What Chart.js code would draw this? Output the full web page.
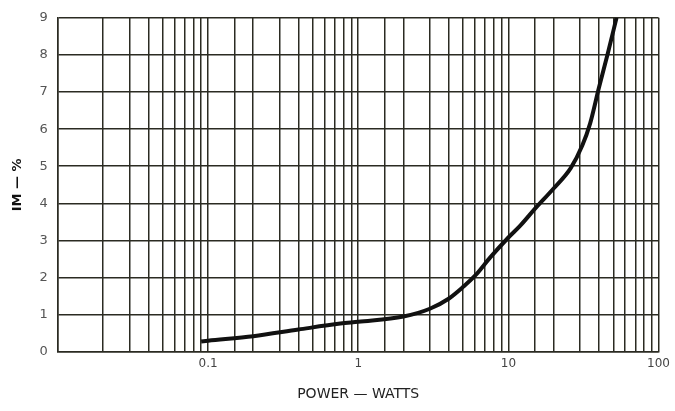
<!DOCTYPE html>
<html>
<head>
<meta charset="utf-8">
<script src="https://cdn.jsdelivr.net/npm/chart.js@4"></script>
<style>
  html, body { margin: 0; padding: 0; background: #fff; }
  #wrap { width: 675px; height: 411px; position: relative; }
</style>
</head>
<body>
<div id="wrap"><canvas id="myChart"></canvas></div>
<script>
// データ
const powerWatts = [0.09, 0.1, 0.2, 0.4, 0.76, 1, 2, 3, 4, 5, 6, 7.6, 10, 12, 15, 20, 26, 31, 35, 40, 46, 52.5];
const imPercent = [0.28, 0.3, 0.42, 0.6, 0.76, 0.81, 0.95, 1.16, 1.43, 1.75, 2.05, 2.55, 3.08, 3.4, 3.85, 4.4, 4.95, 5.55, 6.15, 7.1, 8.05, 9.0];
const xTickLabels = [0.1, 1, 10, 100];
const yTicks = [0, 1, 2, 3, 4, 5, 6, 7, 8, 9];

const gridColor = "#2b2b22";

const ctx = document.getElementById("myChart");

new Chart(ctx, {
    type: "line",
    data: {
        datasets: [
            {
                data: powerWatts.map((x, i) => ({ x: x, y: imPercent[i] })),
                borderColor: "#111",
                borderWidth: 4,
                pointRadius: 0,
                cubicInterpolationMode: "monotone",
                fill: false,
            },
        ],
    },
    options: {
        responsive: true,
        maintainAspectRatio: false,
        animation: false,
        layout: { padding: { top: 4, right: 15, left: 6, bottom: 4 } },
        plugins: { legend: { display: false }, tooltip: { enabled: false } },
        scales: {
            x: {
                type: "logarithmic",
                min: 0.01,
                max: 100,
                grid: { color: gridColor, lineWidth: 1.5, drawTicks: false },
                border: { color: gridColor, width: 1.5 },
                ticks: {
                    autoSkip: false,
                    maxRotation: 0,
                    padding: 5,
                    color: "#444",
                    font: { family: "DejaVu Sans", size: 12 },
                    callback: (value) => xTickLabels.includes(Number(value)) ? String(value) : "",
                },
                title: {
                    display: true,
                    text: "POWER — WATTS",
                    color: "#222",
                    font: { family: "DejaVu Sans", size: 14 },
                    padding: { top: 10 },
                },
            },
            y: {
                min: 0,
                max: 9,
                afterBuildTicks: (axis) => { axis.ticks = yTicks.map((v) => ({ value: v })); },
                grid: { color: gridColor, lineWidth: 1.5, drawTicks: false },
                border: { color: gridColor, width: 1.5 },
                ticks: {
                    padding: 10,
                    color: "#555",
                    font: { family: "DejaVu Sans", size: 13 },
                },
                title: {
                    display: true,
                    text: "IM — %",
                    color: "#111",
                    font: { family: "DejaVu Sans", size: 13, weight: "bold" },
                    padding: { bottom: 4 },
                },
            },
        },
    },
});
</script>
</body>
</html>
